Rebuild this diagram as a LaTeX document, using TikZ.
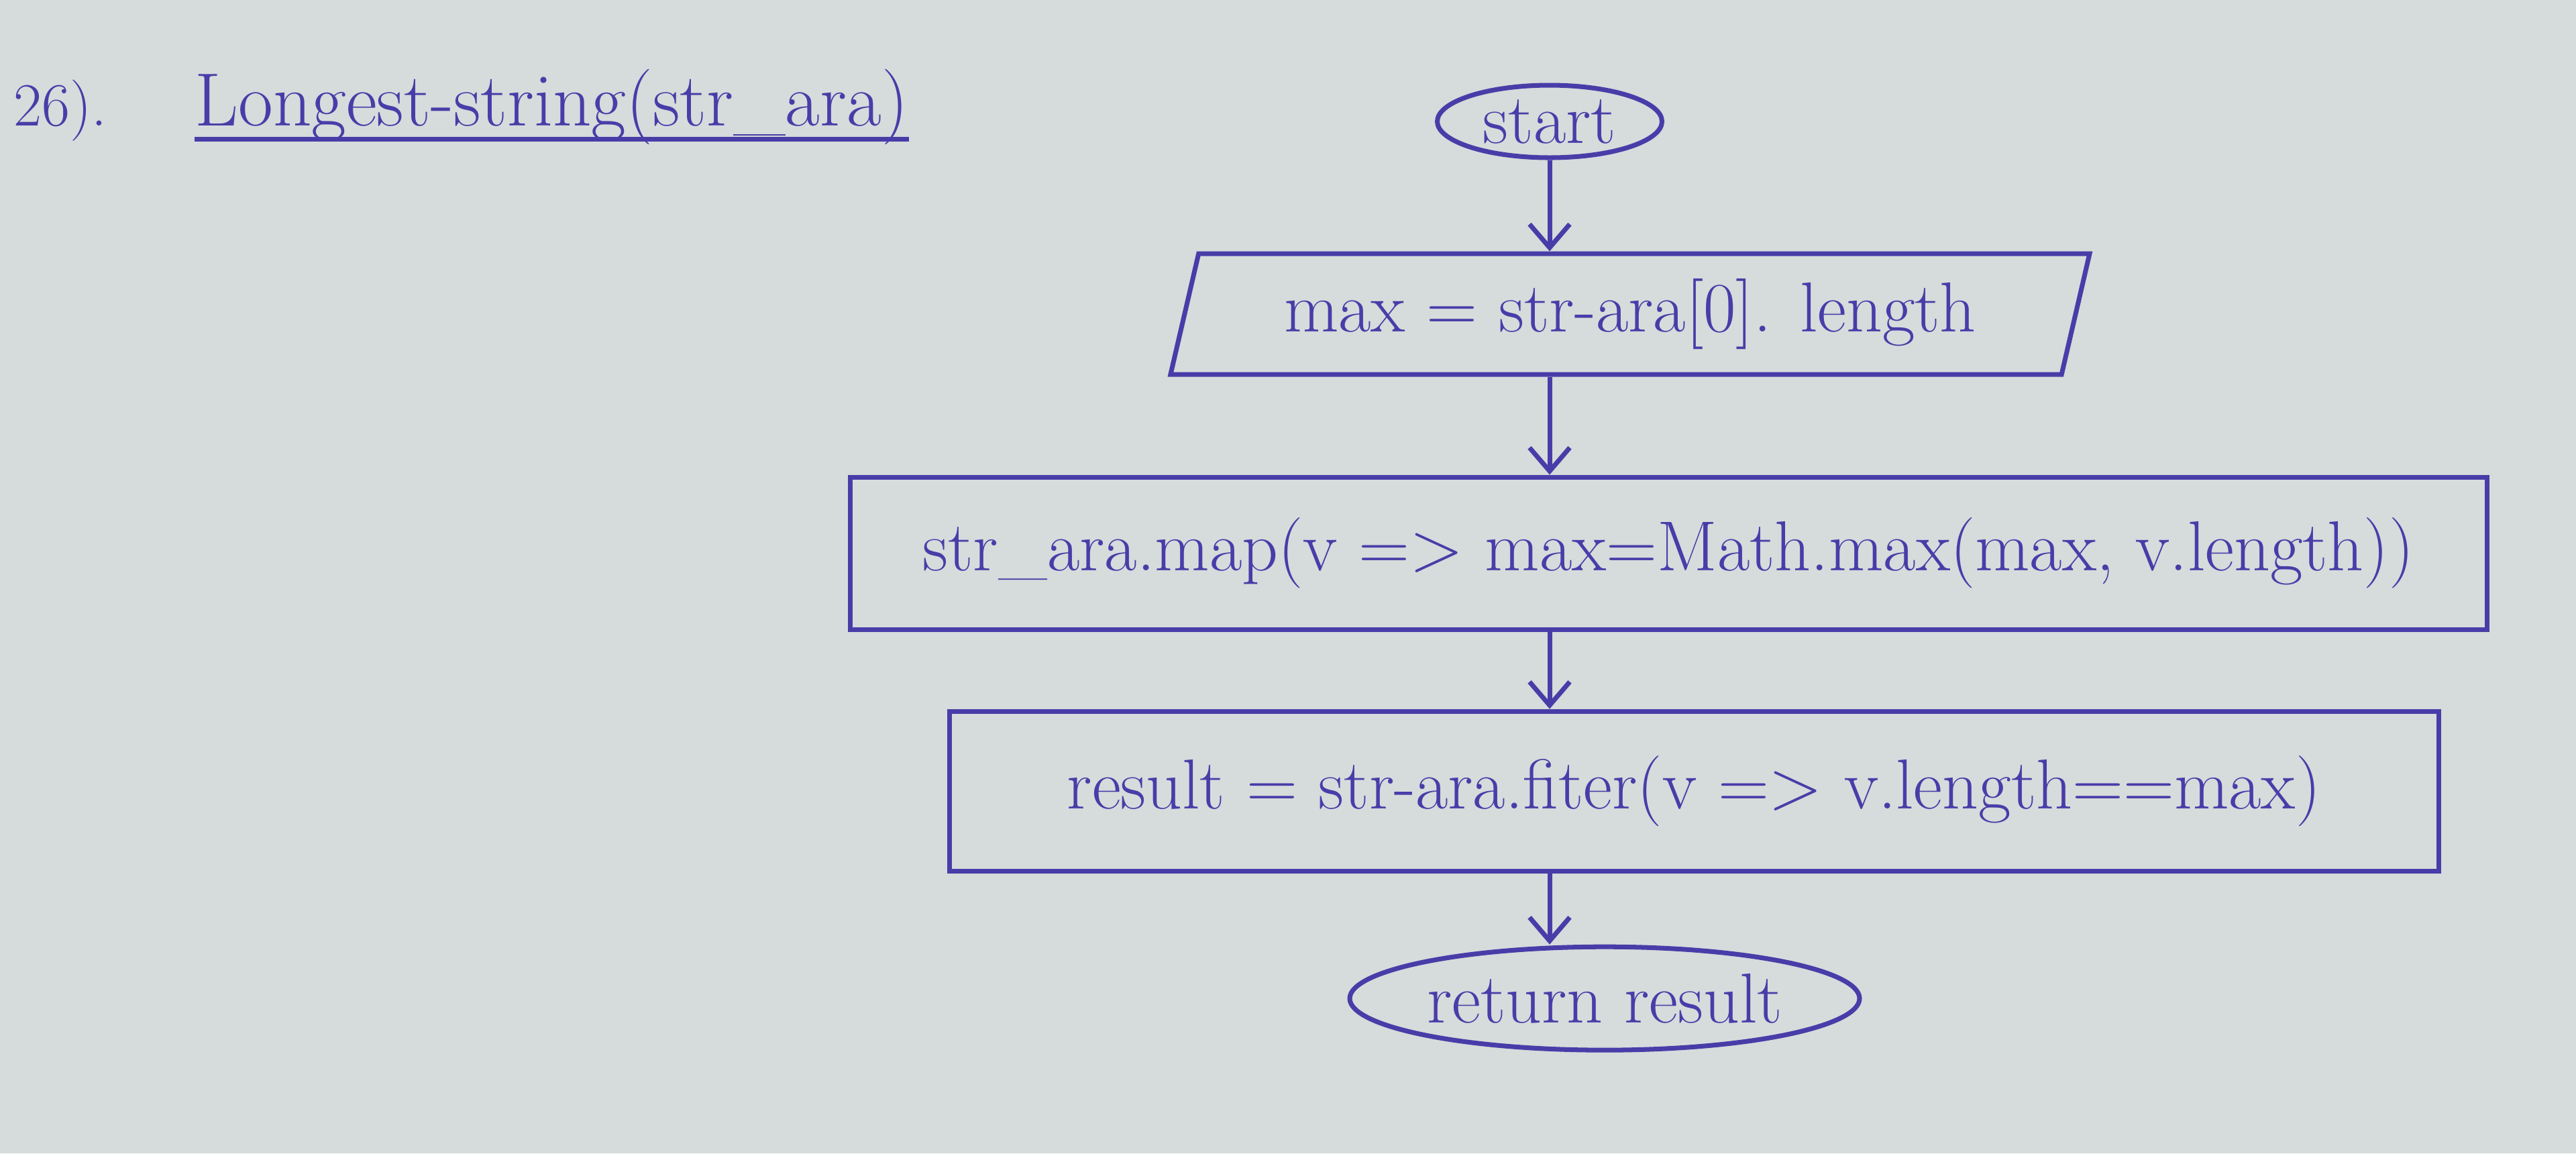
\documentclass[tikz,border=0pt]{standalone}
\usetikzlibrary{arrows.meta,positioning,shapes.geometric,calc}

\definecolor{ink}{RGB}{74,60,168}
\definecolor{paper}{RGB}{214,219,220}

\begin{document}
\begin{tikzpicture}[
    node distance=1.2cm and 2cm,
    every node/.style={text=ink, font=\fontsize{30}{36}\selectfont},
    terminal/.style={ellipse, draw=ink, line width=2pt, inner sep=-0.4cm},
    assign/.style={trapezium, trapezium left angle=72, trapezium right angle=108, trapezium stretches body, draw=ink, line width=2pt, minimum width=13.7cm, minimum height=1.8cm},
    process/.style={rectangle, draw=ink, line width=2pt, align=center},
    flow/.style={draw=ink, line width=2pt, ->},
    >={Straight Barb[length=3.5mm,width=6mm]}
]

\fill[paper] (0,0) rectangle (38.4,-17.19);
\useasboundingbox (0,0) rectangle (38.4,-17.19);

% heading
\node[anchor=base west, inner sep=0pt, font=\fontsize{26}{30}\selectfont] (num) at (0.2,-1.87) {26).};
\node[anchor=base west, inner sep=0pt, font=\fontsize{32}{38}\selectfont] (title) at (2.9,-1.87) {Longest-string(str\_ara)};
\draw[ink, line width=2pt] ([yshift=-0.2cm]title.base west) -- ([yshift=-0.2cm]title.base east);

% flowchart
\node[terminal, minimum width=3.35cm, minimum height=1.08cm] (start) at (23.10,-1.81) {start};
\node[assign, below=1.36cm of start, xshift=1.2cm] (init) {max = str-ara[0]. length};
\node[process, minimum width=24.4cm, minimum height=2.27cm, below=1.46cm of init, xshift=0.57cm] (map) {str\_ara.map(v => max=Math.max(max, v.length))};
\node[process, minimum width=22.2cm, minimum height=2.38cm, below=1.15cm of map, xshift=0.38cm] (filt) {result = str-ara.fiter(v => v.length==max)};
\node[terminal, minimum width=7.6cm, minimum height=1.54cm, below=1.06cm of filt, xshift=-1.33cm] (ret) {return result};

\draw[flow] (start.south) -- (start.south |- init.north);
\draw[flow] (init.south -| start) -- (map.north -| start);
\draw[flow] (map.south -| start) -- (filt.north -| start);
\draw[flow] (filt.south -| start) -- (ret.north -| start);

\end{tikzpicture}
\end{document}
